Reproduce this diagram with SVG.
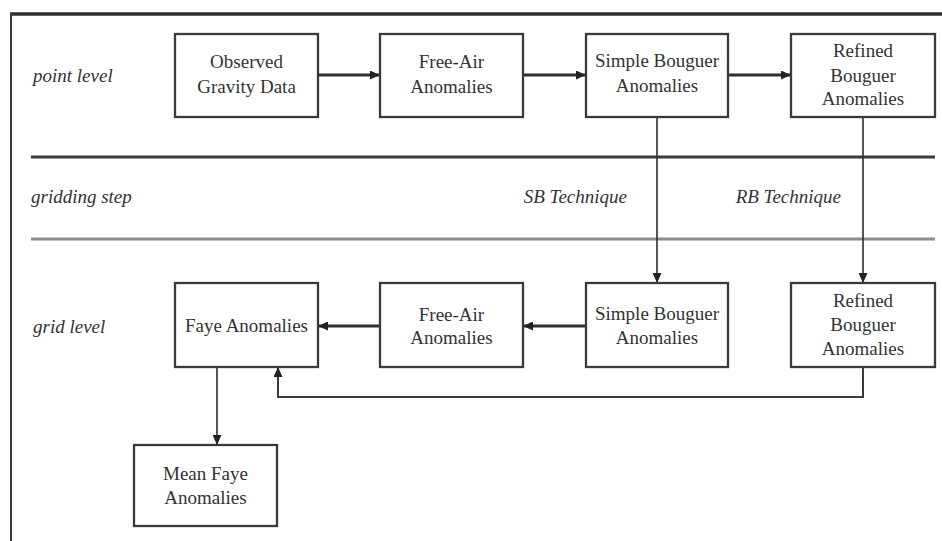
<svg xmlns="http://www.w3.org/2000/svg" width="942" height="541" viewBox="0 0 942 541">
<style>
.bg{fill:#fff}
.box{fill:#fff;stroke:#3a3a3a;stroke-width:2.3}
.t{font-family:"Liberation Serif","Times New Roman",serif;font-size:19px;fill:#333;text-anchor:middle}
.lbl{font-family:"Liberation Serif","Times New Roman",serif;font-size:19px;font-style:italic;fill:#333}
.thick{stroke:#2e2e2e;stroke-width:2.8;fill:none}
.thin{stroke:#2e2e2e;stroke-width:1.6;fill:none}
.mid{stroke:#3a3a3a;stroke-width:2;fill:none}
</style>
<defs>
<marker id="ah" markerUnits="userSpaceOnUse" markerWidth="11" markerHeight="9" refX="10" refY="4.5" orient="auto">
<path d="M0,0 L10,4.5 L0,9 z" fill="#222"/>
</marker>
</defs>
<rect class="bg" x="0" y="0" width="942" height="541"/>
<g id="frame">
<line x1="10" y1="14" x2="942" y2="14" stroke="#2e2e2e" stroke-width="3.5"/>
<line x1="11" y1="13" x2="11" y2="541" stroke="#3a3a3a" stroke-width="2"/>
<line x1="31" y1="157" x2="935" y2="157" stroke="#3c3c3c" stroke-width="3"/>
<line x1="31" y1="239" x2="935" y2="239" stroke="#8c8c8c" stroke-width="3"/>
</g>
<g id="labels">
<text class="lbl" x="33" y="82">point level</text>
<text class="lbl" x="31" y="203">gridding step</text>
<text class="lbl" x="33" y="333">grid level</text>
<text class="lbl" x="627" y="203" text-anchor="end">SB Technique</text>
<text class="lbl" x="841" y="203" text-anchor="end">RB Technique</text>
</g>
<g id="connectors">
<line class="thick" x1="318" y1="75" x2="380" y2="75" marker-end="url(#ah)"/>
<line class="thick" x1="523" y1="75" x2="586" y2="75" marker-end="url(#ah)"/>
<line class="thick" x1="728" y1="75" x2="791" y2="75" marker-end="url(#ah)"/>
<line class="thin" x1="657" y1="117" x2="657" y2="283" marker-end="url(#ah)"/>
<line class="thin" x1="863" y1="117" x2="863" y2="283" marker-end="url(#ah)"/>
<line class="thick" x1="586" y1="326" x2="523" y2="326" marker-end="url(#ah)"/>
<line class="thick" x1="380" y1="326" x2="318" y2="326" marker-end="url(#ah)"/>
<polyline class="mid" points="863,367 863,397 278,397 278,367" marker-end="url(#ah)"/>
<line class="thin" x1="217" y1="367" x2="217" y2="445" marker-end="url(#ah)"/>
</g>
<g id="observed">
<rect class="box" x="175" y="34" width="143" height="83"/>
<text class="t" x="246.5" y="68">Observed</text>
<text class="t" x="246.5" y="93">Gravity Data</text>
</g>
<g id="freeair-point">
<rect class="box" x="380" y="34" width="143" height="83"/>
<text class="t" x="451.5" y="68">Free-Air</text>
<text class="t" x="451.5" y="93">Anomalies</text>
</g>
<g id="simple-point">
<rect class="box" x="586" y="34" width="142" height="83"/>
<text class="t" x="657" y="67">Simple Bouguer</text>
<text class="t" x="657" y="92">Anomalies</text>
</g>
<g id="refined-point">
<rect class="box" x="791" y="34" width="144" height="83"/>
<text class="t" x="863" y="57">Refined</text>
<text class="t" x="863" y="82">Bouguer</text>
<text class="t" x="863" y="105">Anomalies</text>
</g>
<g id="faye">
<rect class="box" x="175" y="283" width="143" height="84"/>
<text class="t" x="246.5" y="332">Faye Anomalies</text>
</g>
<g id="freeair-grid">
<rect class="box" x="380" y="283" width="143" height="84"/>
<text class="t" x="451.5" y="321">Free-Air</text>
<text class="t" x="451.5" y="344">Anomalies</text>
</g>
<g id="simple-grid">
<rect class="box" x="586" y="283" width="142" height="84"/>
<text class="t" x="657" y="320">Simple Bouguer</text>
<text class="t" x="657" y="344">Anomalies</text>
</g>
<g id="refined-grid">
<rect class="box" x="791" y="283" width="144" height="84"/>
<text class="t" x="863" y="307">Refined</text>
<text class="t" x="863" y="331">Bouguer</text>
<text class="t" x="863" y="355">Anomalies</text>
</g>
<g id="mean-faye">
<rect class="box" x="134" y="445" width="143" height="81"/>
<text class="t" x="205.5" y="480">Mean Faye</text>
<text class="t" x="205.5" y="504">Anomalies</text>
</g>
</svg>
